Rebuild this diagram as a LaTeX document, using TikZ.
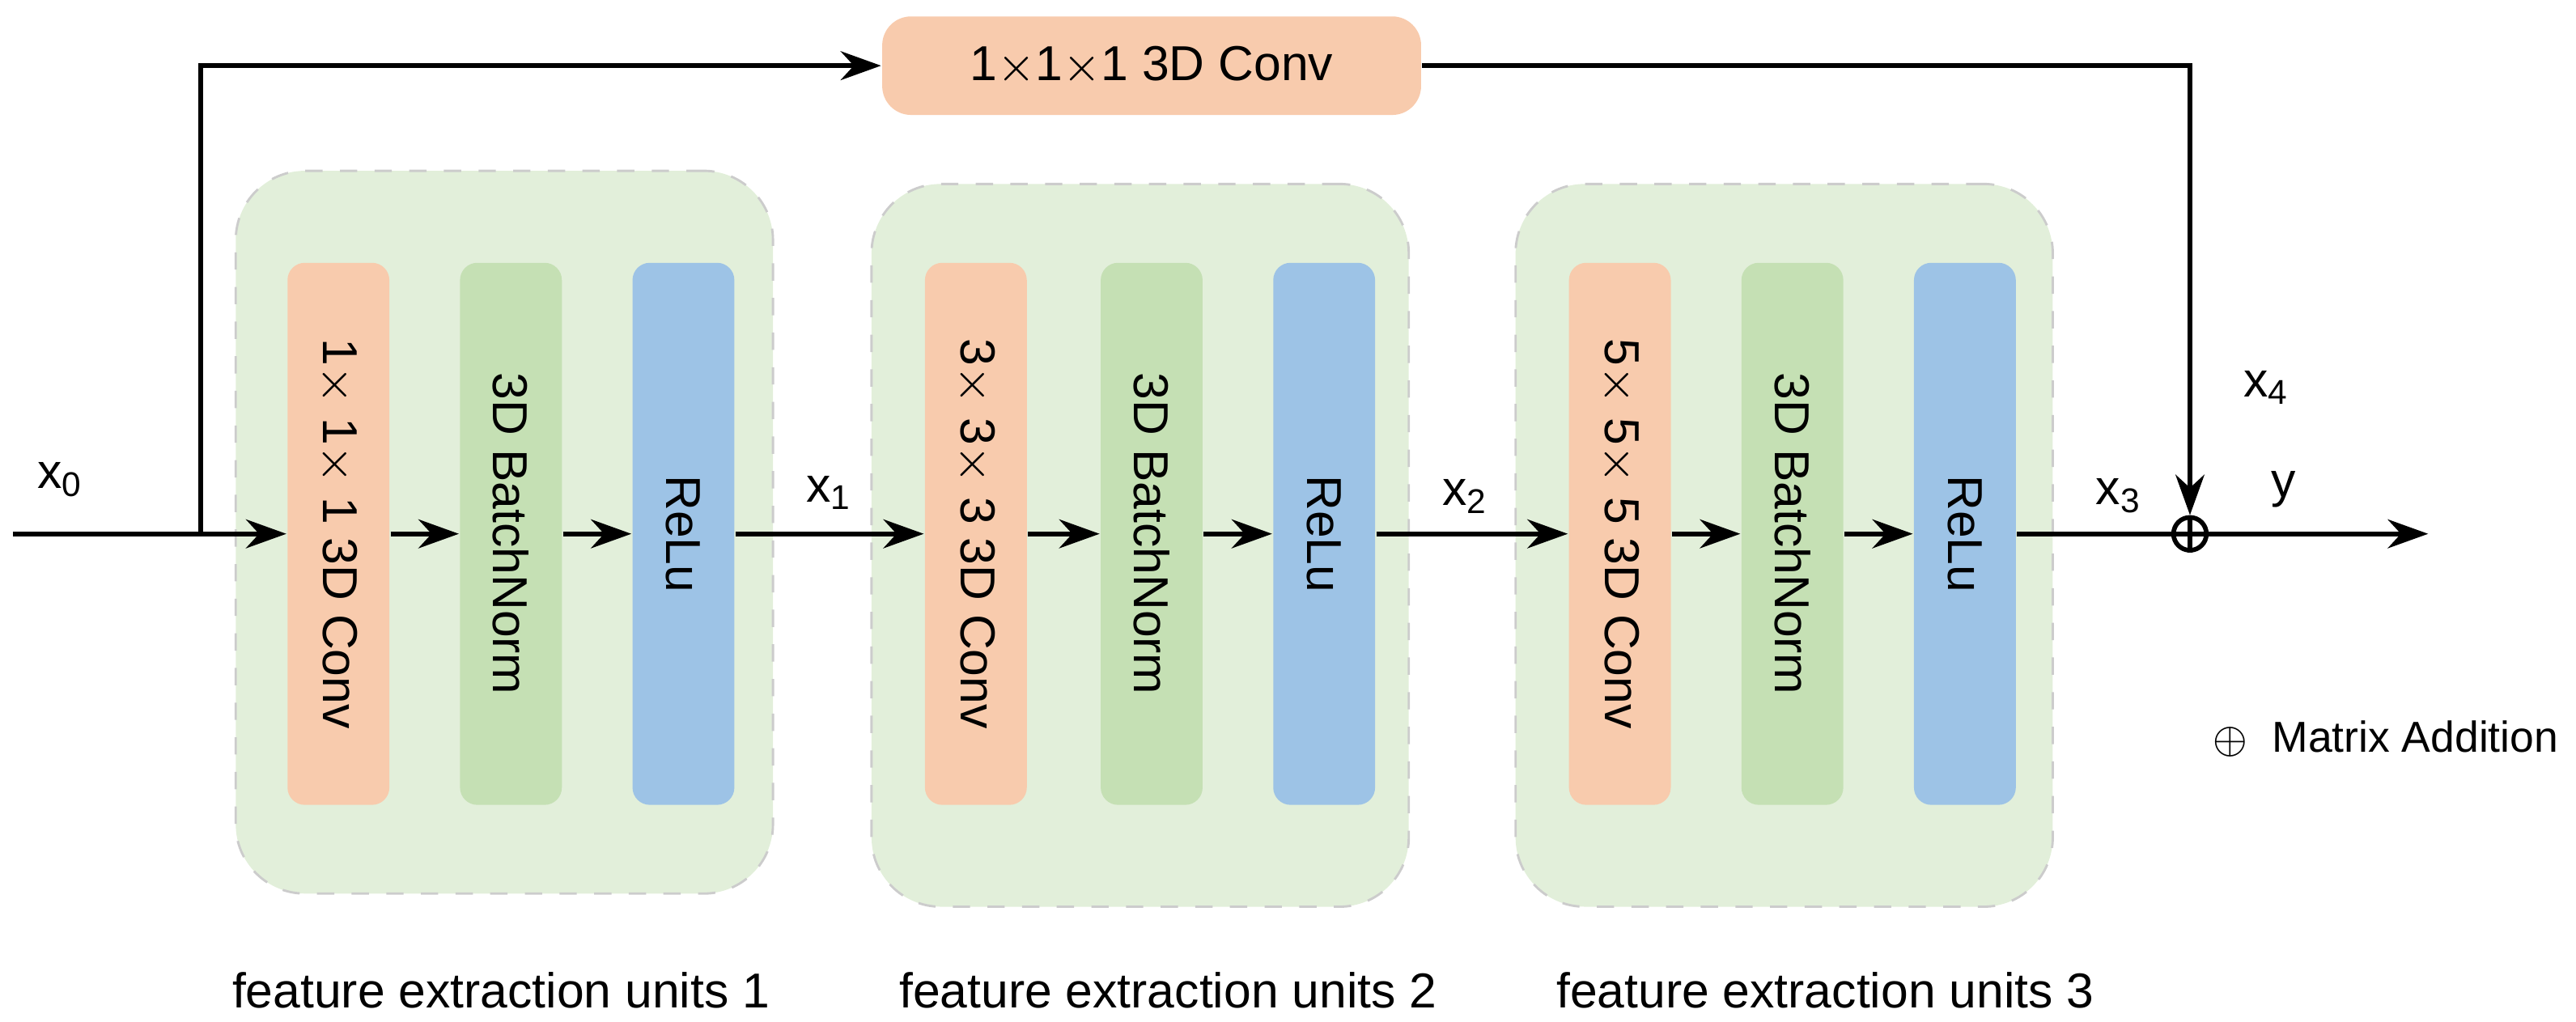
\documentclass[tikz,border=0pt]{standalone}
\usepackage{fontspec}
\setmainfont{Liberation Sans}
\usetikzlibrary{arrows.meta,positioning,calc}
\definecolor{convcol}{HTML}{F8CBAD}
\definecolor{bncol}{HTML}{C5E0B4}
\definecolor{relucol}{HTML}{9DC3E6}
\definecolor{unitcol}{HTML}{E2EFDA}
\tikzset{
	>={Stealth[length=7pt,width=5pt]},
	txt/.style={font=\fontsize{8.5}{10}\selectfont},
	unit/.style={draw=black!20, dashed, fill=unitcol, rounded corners=12pt,
		minimum width=3.27cm, minimum height=4.4cm},
	layer/.style={txt, rounded corners=3pt, minimum width=3.3cm,
		minimum height=0.62cm, rotate=-90, inner sep=0pt},
	conv/.style={layer, fill=convcol},
	bn/.style={layer, fill=bncol},
	relu/.style={layer, fill=relucol},
	flow/.style={->, line width=0.8pt},
}
\begin{document}
\begin{tikzpicture}
\useasboundingbox (0,0) rectangle (15.68,-6.22);

% feature extraction units
\node[unit] (u1) at (3.07,-3.24) {};
\node[unit] (u2) at (6.94,-3.32) {};
\node[unit] (u3) at (10.86,-3.32) {};

\node[conv] (c1) at (2.06,-3.25) {1$\times$ 1$\times$ 1 3D Conv};
\node[bn]   (b1) at (3.11,-3.25) {3D BatchNorm};
\node[relu] (r1) at (4.16,-3.25) {ReLu};
\node[conv] (c2) at (5.94,-3.25) {3$\times$ 3$\times$ 3 3D Conv};
\node[bn]   (b2) at (7.01,-3.25) {3D BatchNorm};
\node[relu] (r2) at (8.06,-3.25) {ReLu};
\node[conv] (c3) at (9.86,-3.25) {5$\times$ 5$\times$ 5 3D Conv};
\node[bn]   (b3) at (10.91,-3.25) {3D BatchNorm};
\node[relu] (r3) at (11.96,-3.25) {ReLu};

\node[txt] at (3.05,-6.03) {feature extraction units 1};
\node[txt] at (7.11,-6.03) {feature extraction units 2};
\node[txt] at (11.11,-6.03) {feature extraction units 3};

% shortcut
\node[txt, fill=convcol, rounded corners=5pt, minimum width=3.28cm,
	minimum height=0.6cm] (sc) at (7.01,-0.40) {1$\times$1$\times$1 3D Conv};
\node[draw, circle, line width=0.8pt, inner sep=0pt, minimum size=0.2cm] (add) at (13.33,-3.25) {};
\draw[line width=0.8pt] (add.north) -- (add.south) (add.west) -- (add.east);

\coordinate (in) at (0.08,-3.25);
\coordinate (split) at (1.22,-3.25);
\coordinate (out) at (14.78,-3.25);

\draw[flow] (in) -- (c1);
\draw[flow] (split) |- (sc);
\draw[flow] (sc) -| (add);
\draw[flow] (c1) -- (b1);
\draw[flow] (b1) -- (r1);
\draw[flow] (r1) -- (c2);
\draw[flow] (c2) -- (b2);
\draw[flow] (b2) -- (r2);
\draw[flow] (r2) -- (c3);
\draw[flow] (c3) -- (b3);
\draw[flow] (b3) -- (r3);
\draw[line width=0.8pt] (r3) -- (add);
\draw[flow] (add) -- (out);

% labels
\node[txt] at (0.37,-2.92) {x\textsubscript{0}};
\node[txt] at (5.05,-3.00) {x\textsubscript{1}};
\node[txt] at (8.92,-3.02) {x\textsubscript{2}};
\node[txt] at (12.90,-3.02) {x\textsubscript{3}};
\node[txt] at (13.80,-2.36) {x\textsubscript{4}};
\node[txt] at (13.90,-2.98) {y};
\node[font=\fontsize{7.5}{9}\selectfont, anchor=east, inner sep=0pt] at (15.58,-4.50) {$\oplus$\ \ Matrix Addition};
\end{tikzpicture}
\end{document}
